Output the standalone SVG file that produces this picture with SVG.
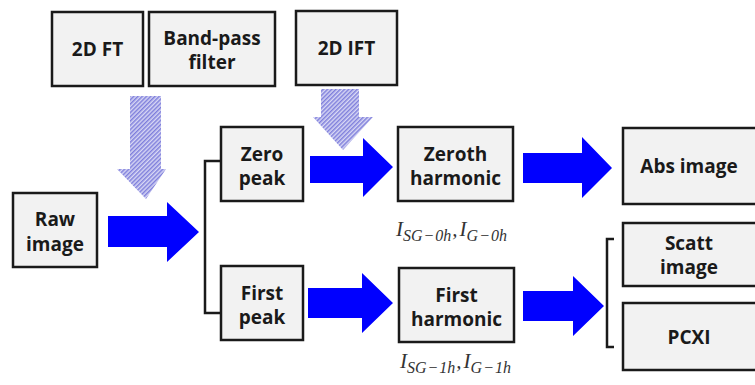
<svg xmlns="http://www.w3.org/2000/svg" width="755" height="385" viewBox="0 0 755 385">
<defs>
<pattern id="hatch" patternUnits="userSpaceOnUse" width="3" height="3" patternTransform="rotate(45)">
<rect width="3" height="3" fill="#d8d8f4"/>
<rect width="1.5" height="3" fill="#7f7fdc"/>
</pattern>
<style>
.box{fill:#f2f2f2;stroke:#1a1a1a;stroke-width:2.5}
.t{font-family:"Open Sans","Noto Sans","Liberation Sans",sans-serif;font-weight:bold;font-size:19px;fill:#1a1a1a;text-anchor:middle}
.blue{fill:#0000ff}
.hat{fill:url(#hatch)}
.m{font-family:"Liberation Serif",serif;font-style:italic;fill:#333;font-size:21px}
.s{font-size:16px}
.line{fill:none;stroke:#1a1a1a;stroke-width:2.5}
</style>
</defs>
<rect width="755" height="385" fill="#ffffff"/>
<g id="connectors">
<polygon class="hat" points="130,96 161,96 161,169 166,169 146,199 117,169 130,169"/>
<polygon class="hat" points="321,89 359,89 359,117 373,117 343,150 313,117 321,117"/>
<polygon class="blue" points="108,216 167,216 167,202 199,232 167,262 167,247 108,247"/>
<polygon class="blue" points="310,156 363,156 363,138 393,167 363,197 363,183 310,183"/>
<polygon class="blue" points="523,153 582,153 582,137 612,168 582,198 582,183 523,183"/>
<polygon class="blue" points="308,288 362,288 362,273 393,303 362,333 362,318 308,318"/>
<polygon class="blue" points="523,291 573,291 573,276 604,306 573,336 573,321 523,321"/>
<polyline class="line" points="220,161 205,161 205,313 220,313"/>
<polyline class="line" points="614,239 607,239 607,347 614,347"/>
</g>
<g id="ft"><rect class="box" x="52" y="12" width="91" height="74"/><text class="t" x="97.5" y="56">2D FT</text></g>
<g id="bandpass"><rect class="box" x="149" y="12" width="126" height="74"/><text class="t" x="212" y="45">Band-pass</text><text class="t" x="212" y="69">filter</text></g>
<g id="ift"><rect class="box" x="296" y="11" width="101" height="74"/><text class="t" x="346.5" y="55">2D IFT</text></g>
<g id="raw"><rect class="box" x="13" y="193" width="84" height="74"/><text class="t" x="55" y="226">Raw</text><text class="t" x="55" y="251">image</text></g>
<g id="zeropeak"><rect class="box" x="221" y="127" width="82" height="74"/><text class="t" x="262" y="161">Zero</text><text class="t" x="262" y="185">peak</text></g>
<g id="firstpeak"><rect class="box" x="221" y="266" width="82" height="74"/><text class="t" x="262" y="300">First</text><text class="t" x="262" y="324">peak</text></g>
<g id="zeroth"><rect class="box" x="398" y="127" width="115" height="74"/><text class="t" x="455.5" y="161">Zeroth</text><text class="t" x="455.5" y="185">harmonic</text></g>
<g id="firsth"><rect class="box" x="399" y="268" width="115" height="74"/><text class="t" x="456.5" y="302">First</text><text class="t" x="456.5" y="326">harmonic</text></g>
<g id="abs"><rect class="box" x="623" y="128" width="140" height="76"/><text class="t" x="689" y="173">Abs image</text></g>
<g id="scatt"><rect class="box" x="623" y="223" width="140" height="63"/><text class="t" x="689" y="250">Scatt</text><text class="t" x="689" y="274">image</text></g>
<g id="pcxi"><rect class="box" x="623" y="303" width="140" height="67"/><text class="t" x="689" y="344">PCXI</text></g>
<g id="label0"><text class="m" x="396" y="236">I<tspan class="s" dy="5">SG</tspan><tspan class="s" dx="1">−</tspan><tspan class="s" dx="1">0h</tspan><tspan dy="-5" dx="1">,</tspan><tspan dx="2">I</tspan><tspan class="s" dy="5">G</tspan><tspan class="s" dx="1">−</tspan><tspan class="s" dx="1">0h</tspan></text></g>
<g id="label1"><text class="m" x="400" y="368">I<tspan class="s" dy="5">SG</tspan><tspan class="s" dx="1">−</tspan><tspan class="s" dx="1">1h</tspan><tspan dy="-5" dx="1">,</tspan><tspan dx="2">I</tspan><tspan class="s" dy="5">G</tspan><tspan class="s" dx="1">−</tspan><tspan class="s" dx="1">1h</tspan></text></g>
</svg>
